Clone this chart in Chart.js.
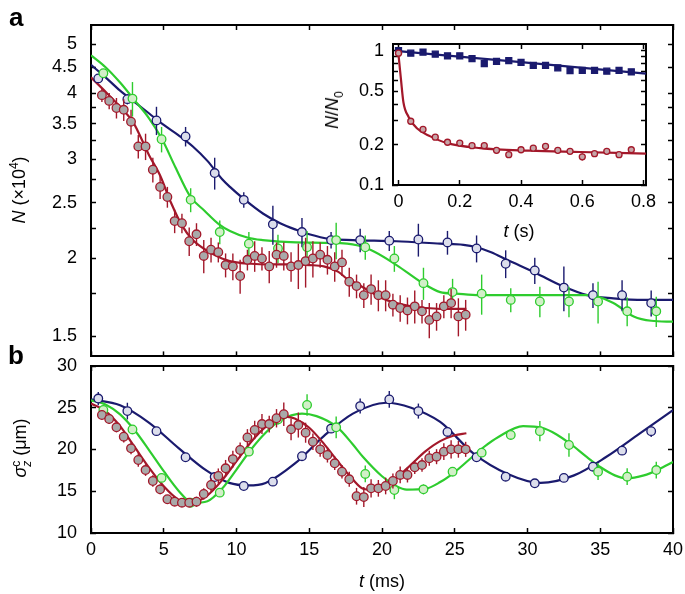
<!DOCTYPE html>
<html>
<head>
<meta charset="UTF-8">
<title>Atom number and cloud width vs time</title>
<script src="https://cdn.jsdelivr.net/npm/chart.js"></script>
<style>
  body { margin: 0; background: #fff; }
  #wrap { position: relative; width: 685px; height: 594px; overflow: hidden; }
  canvas { position: absolute; }
  .t { position: absolute; font-family: "Liberation Sans", Arial, sans-serif; font-size: 18px;
       line-height: 1; white-space: nowrap; color: #000; transform: translate(-50%, -50%); }
  .rot { transform: translate(-50%, -50%) rotate(-90deg); }
  .sup { font-size: 12px; position: relative; top: -7px; }
  .sub { font-size: 12px; position: relative; top: 5px; }
  .ss { display: inline-block; font-size: 12px; line-height: 11px; vertical-align: -5px; }
  .ss span { display: block; }
  .panel { position: absolute; font-family: "Liberation Sans", Arial, sans-serif; font-weight: bold;
           font-size: 26px; line-height: 1; }
</style>
</head>
<body>
<div id="wrap">
  <canvas id="panelA" width="685" height="362" style="left:0;top:0"></canvas>
  <canvas id="panelB" width="685" height="242" style="left:0;top:352px"></canvas>
  <canvas id="inset" width="330" height="200" style="left:340px;top:28px"></canvas>

  <div class="panel" style="left:9px;top:4px">a</div>
  <div class="panel" style="left:8px;top:342px">b</div>
  <div class="t rot" style="left:19px;top:190px"><i>N</i> (×10<span class="sup">4</span>)</div>
  <div class="t rot" style="left:22px;top:448px"><i>σ</i><span class="ss"><span>c</span><span><i>z</i></span></span> (μm)</div>
  <div class="t" style="left:382px;top:581px"><i>t</i> (ms)</div>
  <div class="t rot" style="left:332px;top:110px"><i>N</i>/<i>N</i><span class="sub">0</span></div>
  <div class="t" style="left:519px;top:231px"><i>t</i> (s)</div>
</div>
<script>
// ---- panel a : atom number N (x10^4) ----
const tRed = [0.75, 1.25, 1.75, 2.25, 2.75, 3.25, 3.75, 4.25, 4.75, 5.25, 5.75, 6.25, 6.75, 7.25, 7.75, 8.25, 8.75,
  9.25, 9.75, 10.25, 10.75, 11.25, 11.75, 12.25, 12.75, 13.25, 13.75, 14.25, 14.75, 15.25, 15.75, 16.25, 16.75,
  17.25, 17.75, 18.25, 18.75, 19.25, 19.75, 20.25, 20.75, 21.25, 21.75, 22.25, 22.75, 23.25, 23.75, 24.25, 24.75,
  25.25, 25.75];
const nRed = [3.97, 3.87, 3.75, 3.72, 3.53, 3.17, 3.17, 2.87, 2.67, 2.56, 2.32, 2.30, 2.14, 2.20, 2.02, 2.07, 2.05,
  1.95, 1.94, 1.87, 1.99, 2.02, 2.00, 1.94, 2.03, 2.02, 1.94, 1.95, 1.98, 2.00, 2.03, 1.99, 1.94,
  1.97, 1.83, 1.80, 1.74, 1.78, 1.74, 1.74, 1.68, 1.66, 1.645, 1.67, 1.64, 1.59, 1.61, 1.67, 1.69,
  1.61, 1.62];
const errNRed = [0.12, 0.14, 0.17, 0.18, 0.19, 0.16, 0.18, 0.15, 0.13, 0.11, 0.11, 0.09, 0.12, 0.10, 0.13, 0.10, 0.08,
  0.09, 0.10, 0.12, 0.08, 0.12, 0.09, 0.12, 0.10, 0.11, 0.11, 0.17, 0.19, 0.14, 0.10, 0.11, 0.11,
  0.10, 0.10, 0.08, 0.08, 0.10, 0.10, 0.10, 0.07, 0.08, 0.08, 0.10, 0.07, 0.10, 0.08, 0.07, 0.09,
  0.11, 0.09];

const tBlue = [0.5, 2.5, 4.5, 6.5, 8.5, 10.5, 12.5, 14.5, 16.5, 18.5, 20.5, 22.5, 24.5, 26.5, 28.5, 30.5, 32.5, 34.5, 36.5, 38.5];
const nBlue = [4.28, 3.90, 3.55, 3.31, 2.83, 2.53, 2.29, 2.22, 2.15, 2.15, 2.145, 2.155, 2.13, 2.08, 1.96, 1.91, 1.79, 1.74, 1.74, 1.69];
const errNBlue = [0.06, 0.09, 0.22, 0.14, 0.19, 0.08, 0.18, 0.13, 0.07, 0.10, 0.085, 0.14, 0.10, 0.11, 0.105, 0.095, 0.15, 0.08, 0.10, 0.08];

const tGreen = [0.85, 2.85, 4.85, 6.85, 8.85, 10.85, 12.85, 14.85, 16.85, 18.85, 20.85, 22.85, 24.85, 26.85, 28.85, 30.85, 32.85, 34.85, 36.85, 38.85];
const nGreen = [4.38, 3.91, 3.27, 2.53, 2.22, 2.12, 2.08, 2.09, 2.15, 2.09, 2.00, 1.82, 1.76, 1.75, 1.71, 1.70, 1.70, 1.70, 1.64, 1.64];
const errNGreen = [0.08, 0.30, 0.18, 0.125, 0.105, 0.10, 0.115, 0.14, 0.155, 0.10, 0.10, 0.11, 0.09, 0.13, 0.075, 0.095, 0.095, 0.13, 0.085, 0.09];

// fitted curves
const fitTBlueA = [0, 1, 2, 3, 4, 5, 6, 7, 8, 9, 9.55, 10.5, 11.84, 13, 14.1, 15, 16.4, 18, 21, 24, 25.6, 26.5, 27.5, 28.6, 30.6, 32.4, 34.1, 35.9, 38, 40];
const fitNBlueA = [4.55, 4.3, 4.05, 3.85, 3.66, 3.48, 3.33, 3.17, 2.98, 2.76, 2.67, 2.54, 2.39, 2.3, 2.24, 2.2, 2.16, 2.15, 2.14, 2.12, 2.11, 2.09, 2.05, 1.99, 1.89, 1.80, 1.74, 1.72, 1.71, 1.71];
const fitTGreenA = [0, 1, 2, 2.9, 4, 4.86, 5.8, 6.8, 7.8, 8.8, 9.55, 10.8, 11.8, 14.1, 17.6, 19.2, 21, 22.8, 24, 25.1, 26.7, 28.6, 34.3, 35.9, 37.3, 38.5, 40];
const fitNGreenA = [4.75, 4.5, 4.2, 3.91, 3.58, 3.28, 2.9, 2.57, 2.42, 2.29, 2.23, 2.17, 2.15, 2.13, 2.12, 2.07, 1.95, 1.82, 1.76, 1.75, 1.74, 1.74, 1.74, 1.69, 1.61, 1.585, 1.58];
const fitTRedA = [0, 1, 2, 2.9, 4, 4.75, 5.5, 6.25, 7, 8, 9, 10, 11, 12, 13, 14, 15, 16, 17, 17.6, 18, 19, 20, 21, 22, 23, 24, 25, 25.8];
const fitNRedA = [4.3, 4.03, 3.77, 3.52, 3.05, 2.8, 2.5, 2.28, 2.15, 2.06, 2.0, 1.97, 1.96, 1.955, 1.955, 1.955, 1.95, 1.94, 1.9, 1.85, 1.83, 1.775, 1.72, 1.69, 1.67, 1.66, 1.655, 1.655, 1.655];

const tickA = [1.5, 1.75, 2, 2.25, 2.5, 2.75, 3, 3.25, 3.5, 3.75, 4, 4.5, 5];
const labelA = [1.5, 2, 2.5, 3, 3.5, 4, 4.5, 5];

// ---- panel b : cloud width sigma_z^c (um) ----
const sRed = [24.13, 23.65, 22.66, 21.53, 20.14, 18.74, 17.54, 16.23, 15.23, 14.04, 13.75, 13.63, 13.63, 13.75, 14.67, 15.75, 16.83,
  17.75, 18.85, 19.94, 21.44, 22.34, 23.05, 23.05, 23.74, 24.22, 22.42, 22.93, 22.01, 20.93, 20.02, 19.34, 18.35,
  17.34, 16.43, 14.4, 14.3, 15.35, 15.35, 15.63, 16.23, 16.95, 16.95, 17.87, 18.14, 18.95, 19.14, 19.74, 20.02,
  20.02, 20.02];
const errSRed = [0.5, 0.6, 0.6, 0.7, 0.7, 0.8, 0.7, 0.7, 0.6, 0.5, 0.5, 0.5, 0.5, 0.6, 0.7, 0.8, 0.9,
  1.0, 1.0, 0.9, 1.0, 1.1, 1.2, 1.0, 1.1, 1.4, 1.3, 1.5, 1.2, 1.0, 0.9, 0.9, 0.8,
  0.8, 0.9, 1.0, 1.2, 1.1, 1.0, 1.0, 0.9, 1.0, 0.9, 0.8, 0.8, 0.9, 0.9, 1.0, 1.1,
  1.0, 0.9];
const sBlue = [26.1, 24.6, 22.2, 19.07, 16.7, 15.63, 16.15, 19.2, 22.5, 25.2, 26.0, 24.6, 22.1, 19.07, 16.74, 15.95, 16.6, 17.94, 19.86, 22.2];
const errSBlue = [0.8, 1.0, 0.3, 0.3, 0.4, 0.3, 0.3, 0.4, 0.5, 0.9, 1.0, 0.9, 0.5, 0.4, 0.3, 0.4, 0.4, 0.5, 0.5, 0.7];
const sGreen = [24.73, 22.4, 16.6, 13.63, 14.83, 19.74, 23.6, 25.33, 22.66, 17.07, 15.15, 15.23, 17.34, 19.62, 21.74, 22.2, 20.54, 17.34, 16.74, 17.54];
const errSGreen = [0.5, 0.5, 0.5, 0.4, 0.4, 0.5, 0.6, 1.3, 1.3, 1.0, 1.1, 0.6, 0.5, 0.5, 0.5, 1.2, 1.4, 1.0, 1.0, 1.0];

const fitTRedB = [0, 1, 2, 3, 4, 5, 6, 6.75, 8, 9, 10, 11, 12, 13, 13.5, 14, 15, 16, 17, 18, 18.7, 19.5, 20, 21, 22, 23, 24, 25, 25.8];
const fitSRedB = [25.5, 24.6, 22.8, 20.3, 17.8, 15.6, 14.0, 13.5, 14.5, 16.3, 18.6, 20.9, 22.7, 23.8, 23.9, 23.7, 22.6, 20.7, 18.5, 16.4, 15.3, 15.15, 15.4, 16.6, 18.2, 19.8, 21.0, 21.7, 21.95];
const fitTBlueB = [0, 2, 4, 6, 8, 9.5, 10.8, 12, 14, 16, 18, 20.3, 22, 24, 26.3, 28.6, 30.9, 33.2, 35.4, 37.7, 40];
const fitSBlueB = [26.0, 25.3, 23.2, 20.2, 17.4, 16.0, 15.7, 16.0, 18.3, 21.6, 24.3, 25.6, 25.0, 23.3, 19.5, 17.1, 16.0, 16.9, 19.1, 21.9, 24.7];
const fitTGreenB = [0, 1, 2, 3, 4, 5, 6, 7, 8, 9, 10, 11, 12, 13, 14.5, 15.5, 16.9, 18, 18.7, 20, 21, 21.7, 23, 24, 25, 26, 27, 28, 29.7, 31, 32, 33, 34, 35, 36, 36.8, 38, 39, 40];
const fitSGreenB = [25.9, 25.4, 24.2, 22.3, 19.9, 17.4, 15.1, 13.6, 13.8, 15.3, 17.6, 20.0, 22.0, 23.5, 24.3, 24.0, 22.7, 20.6, 19.1, 16.8, 15.6, 15.2, 15.3, 16.1, 17.3, 18.8, 20.3, 21.5, 22.8, 22.6, 21.8, 20.6, 19.2, 17.9, 16.9, 16.55, 16.9, 17.6, 18.5];

// ---- inset : N/N0 vs t (s) ----
const tInset = [0, 0.04, 0.08, 0.12, 0.16, 0.2, 0.24, 0.28, 0.32, 0.36, 0.4, 0.44, 0.48, 0.52, 0.56, 0.6, 0.64, 0.68, 0.72, 0.76];
const ratioBlue = [1.0, 0.957, 0.973, 0.941, 0.915, 0.915, 0.87, 0.80, 0.831, 0.841, 0.817, 0.777, 0.777, 0.744, 0.711, 0.714, 0.714, 0.703, 0.714, 0.696];
const ratioRed = [0.957, 0.298, 0.259, 0.227, 0.208, 0.205, 0.196, 0.196, 0.181, 0.168, 0.183, 0.188, 0.194, 0.181, 0.178, 0.162, 0.171, 0.178, 0.168, 0.183];
const errRatioRed = [0.02, 0.006, 0.006, 0.005, 0.005, 0.005, 0.005, 0.005, 0.01, 0.008, 0.006, 0.01, 0.01, 0.01, 0.005, 0.01, 0.006, 0.01, 0.005, 0.006];
const fitTBlueIn = [0, 0.4, 0.808];
const fitRBlueIn = [0.99, 0.82, 0.675];
const fitTRedIn = [0, 0.008, 0.016, 0.033, 0.06, 0.104, 0.158, 0.267, 0.43, 0.594, 0.808];
const fitRRedIn = [0.93, 0.61, 0.413, 0.321, 0.264, 0.23, 0.205, 0.188, 0.18, 0.176, 0.171];
const tickInX = [0, 0.2, 0.4, 0.6, 0.8];
const tickInY = [0.1, 0.2, 0.3, 0.4, 0.5, 0.6, 0.7, 0.8, 0.9, 1];
const labelInY = [0.1, 0.2, 0.5, 1];

const BLUE = '#1a1a6e', BLUE_FILL = '#dcdeec';
const GREEN = '#2ecc2e', GREEN_FILL = '#d2efc8';
const RED = '#a3182a', RED_FILL = '#a9a9a9', RED_FILL_IN = '#c6a5a8';
const FONT = '"Liberation Sans", Arial, sans-serif';
const N_SHIFT = 0.46; // panel a axis is logarithmic in (N - 0.46)

// log axis of (value - N_SHIFT)
class OffsetLogScale extends Chart.LinearScale {
  _tf(v) { return Math.log10(v - N_SHIFT); }
  getPixelForValue(value) {
    const a = this._tf(this.min), b = this._tf(this.max);
    return this.getPixelForDecimal((this._tf(value) - a) / (b - a));
  }
  getValueForPixel(pixel) {
    const a = this._tf(this.min), b = this._tf(this.max);
    return Math.pow(10, a + this.getDecimalForPixel(pixel) * (b - a)) + N_SHIFT;
  }
}
OffsetLogScale.id = 'offsetLog';
OffsetLogScale.defaults = {};
Chart.register(OffsetLogScale);

const errorBars = {
  id: 'errorBars',
  beforeDatasetDraw(chart, args) {
    const ds = chart.data.datasets[args.index];
    if (!ds.yErr) return;
    const yScale = chart.scales[args.meta.yAxisID];
    const ctx = chart.ctx;
    ctx.save();
    ctx.strokeStyle = ds.borderColor;
    ctx.lineWidth = 1.4;
    ds.data.forEach((p, i) => {
      const el = args.meta.data[i];
      ctx.beginPath();
      ctx.moveTo(el.x, yScale.getPixelForValue(p.y + ds.yErr[i]));
      ctx.lineTo(el.x, yScale.getPixelForValue(p.y - ds.yErr[i]));
      ctx.stroke();
    });
    ctx.restore();
  }
};

const whiteArea = {
  id: 'whiteArea',
  beforeDraw(chart) {
    const a = chart.chartArea;
    chart.ctx.save();
    chart.ctx.fillStyle = '#fff';
    chart.ctx.fillRect(a.left, a.top, a.right - a.left, a.bottom - a.top);
    chart.ctx.restore();
  }
};

function pts(xs, ys) { return xs.map((x, i) => ({ x: x, y: ys[i] })); }

function fitLine(xs, ys, color, order) {
  return { data: pts(xs, ys), showLine: true, pointRadius: 0, borderColor: color, borderWidth: 2.2,
           cubicInterpolationMode: 'monotone', order: order };
}
function markers(xs, ys, err, color, fill, order, radius, style) {
  return { data: pts(xs, ys), yErr: err, showLine: false, pointRadius: radius || 4.3, pointStyle: style || 'circle',
           borderColor: color, pointBorderColor: color, pointBackgroundColor: fill, pointBorderWidth: 1.3, order: order };
}

// one edge of a frame: inward ticks, optional labels, fixed size
function edge(pos, size, extra, labels, pad) {
  const horiz = pos === 'top' || pos === 'bottom';
  const s = {
    position: pos,
    grid: { drawOnChartArea: false, tickLength: -5, tickColor: '#000', tickWidth: 1.5 },
    border: { color: '#000', width: 2 },
    ticks: { color: '#000', font: { family: FONT, size: 18 }, autoSkip: false, maxRotation: 0,
             padding: pad || 0, callback: labels || (() => '') },
    afterFit: sc => {
      if (horiz) sc.height = size; else sc.width = size;
      sc.paddingTop = 0; sc.paddingBottom = 0; sc.paddingLeft = 0; sc.paddingRight = 0;
    }
  };
  return Object.assign(s, extra);
}
function setTicks(list) { return sc => { sc.ticks = list.map(v => ({ value: v })); }; }

const common = {
  responsive: false, animation: false,
  layout: { padding: 0 },
  plugins: { legend: { display: false }, tooltip: { enabled: false } }
};

new Chart(document.getElementById('panelA'), {
  type: 'scatter',
  data: { datasets: [
    fitLine(fitTBlueA, fitNBlueA, BLUE, 6),
    fitLine(fitTGreenA, fitNGreenA, GREEN, 5),
    fitLine(fitTRedA, fitNRedA, RED, 4),
    markers(tBlue, nBlue, errNBlue, BLUE, BLUE_FILL, 3),
    markers(tGreen, nGreen, errNGreen, GREEN, GREEN_FILL, 2),
    markers(tRed, nRed, errNRed, RED, RED_FILL, 1)
  ] },
  options: Object.assign({}, common, {
    scales: {
      x: edge('bottom', 5, { type: 'linear', min: 0, max: 40, afterBuildTicks: setTicks([0, 5, 10, 15, 20, 25, 30, 35, 40]) }),
      x2: edge('top', 25, { type: 'linear', min: 0, max: 40, afterBuildTicks: setTicks([0, 5, 10, 15, 20, 25, 30, 35, 40]) }),
      y: edge('left', 91, { type: 'offsetLog', min: 1.40, max: 5.46, bounds: 'data', afterBuildTicks: setTicks(tickA) },
              v => labelA.includes(v) ? String(v) : '', 19),
      y2: edge('right', 12, { type: 'offsetLog', min: 1.40, max: 5.46, bounds: 'data', afterBuildTicks: setTicks(tickA) })
    }
  }),
  plugins: [errorBars]
});

new Chart(document.getElementById('panelB'), {
  type: 'scatter',
  data: { datasets: [
    fitLine(fitTBlueB, fitSBlueB, BLUE, 6),
    fitLine(fitTGreenB, fitSGreenB, GREEN, 5),
    fitLine(fitTRedB, fitSRedB, RED, 4),
    markers(tBlue, sBlue, errSBlue, BLUE, BLUE_FILL, 3),
    markers(tGreen, sGreen, errSGreen, GREEN, GREEN_FILL, 2),
    markers(tRed, sRed, errSRed, RED, RED_FILL, 1)
  ] },
  options: Object.assign({}, common, {
    scales: {
      x: edge('bottom', 61, { type: 'linear', min: 0, max: 40, afterBuildTicks: setTicks([0, 5, 10, 15, 20, 25, 30, 35, 40]) },
              v => String(v), 11),
      x2: edge('top', 14, { type: 'linear', min: 0, max: 40, afterBuildTicks: setTicks([0, 5, 10, 15, 20, 25, 30, 35, 40]) }),
      y: edge('left', 91, { type: 'linear', min: 10, max: 30, afterBuildTicks: setTicks([10, 15, 20, 25, 30]) },
              v => String(v), 19),
      y2: edge('right', 12, { type: 'linear', min: 10, max: 30, afterBuildTicks: setTicks([10, 15, 20, 25, 30]) })
    }
  }),
  plugins: [errorBars]
});

new Chart(document.getElementById('inset'), {
  type: 'scatter',
  data: { datasets: [
    fitLine(fitTBlueIn, fitRBlueIn, BLUE, 4),
    fitLine(fitTRedIn, fitRRedIn, RED, 3),
    markers(tInset, ratioBlue, null, BLUE, BLUE, 2, 4.2, 'rect'),
    markers(tInset, ratioRed, errRatioRed, RED, RED_FILL_IN, 1, 3)
  ] },
  options: Object.assign({}, common, {
    scales: {
      x: edge('bottom', 43, { type: 'linear', min: -0.018, max: 0.808, afterBuildTicks: setTicks(tickInX) },
              v => String(v), 11),
      x2: edge('top', 16, { type: 'linear', min: -0.018, max: 0.808, afterBuildTicks: setTicks(tickInX) }),
      y: edge('left', 53, { type: 'logarithmic', min: 0.1, max: 1.12, afterBuildTicks: setTicks(tickInY) },
              v => labelInY.includes(v) ? String(v) : '', 14),
      y2: edge('right', 24, { type: 'logarithmic', min: 0.1, max: 1.12, afterBuildTicks: setTicks(tickInY) })
    }
  }),
  plugins: [whiteArea, errorBars]
});
</script>
</body>
</html>
